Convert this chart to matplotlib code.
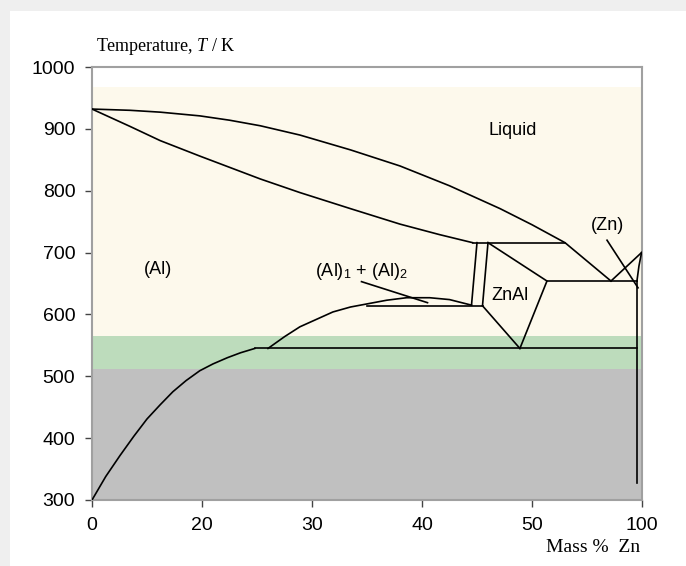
import numpy as np
import matplotlib
matplotlib.use("Agg")
import matplotlib.pyplot as plt
from matplotlib.patches import Rectangle

plt.rcParams['font.family'] = ['Liberation Sans', 'DejaVu Sans']
plt.rcParams['mathtext.fontset'] = 'custom'
plt.rcParams['mathtext.rm'] = 'Liberation Sans'
plt.rcParams['mathtext.it'] = 'Liberation Serif:italic'

# x axis of the diagram is not linear: equal spacing between these labels
x_ticks = [0, 20, 30, 40, 50, 100]
y_ticks = [300, 400, 500, 600, 700, 800, 900, 1000]

# background bands (K)
liquid_band = (565, 967)
green_band = (512, 565)
gray_band = (300, 512)

# phase boundaries, mass % Zn vs T / K
liq_x = [0, 6.9, 12.4, 19.6, 22.5, 25.3, 28.9, 33.5, 38.0, 42.5, 47.1, 50.0, 65.0, 85.9]
liq_T = [932, 930, 927, 921, 914, 905, 890, 866, 840, 808, 771, 745, 716, 654]

sol_x = [0, 6.9, 12.4, 19.6, 25.3, 28.9, 33.5, 38.0, 41.6, 44.6]
sol_T = [932, 904, 881, 856, 819, 797, 771, 746, 729, 716]

solvus_x = [0, 2.5, 5.1, 7.6, 10.0, 12.4, 14.7, 17.1, 19.6, 21.0, 22.3, 23.5, 24.8]
solvus_T = [300, 338, 372, 403, 431, 454, 475, 493, 509, 520, 530, 538, 545]

gap_x = [26.0, 27.5, 28.9, 31.9, 33.5, 35.0, 36.8, 38.6, 40.7, 42.5, 44.5]
gap_T = [545, 564, 580, 604, 612, 617, 623, 627, 627, 624, 615]

zn_liq_x = [85.9, 99.8]
zn_liq_T = [654, 700]
zn_sol_x = [99.8, 98.6, 97.7]
zn_sol_T = [700, 678, 654]
zn_solvus_x = [97.7, 97.7]
zn_solvus_T = [654, 328]

# two near-vertical lines on the Al side of ZnAl
dl1_x = [45.0, 44.5]
dl1_T = [716, 615]
dl2_x = [46.0, 45.5]
dl2_T = [716, 614]

# ZnAl field edges
znal_x = [46.0, 56.8, 48.9, 45.5]
znal_T = [716, 654, 545, 614]

# invariant horizontals: (x from, x to, T)
horizontals = [
    (44.6, 65.0, 716),
    (56.8, 97.7, 654),
    (35.0, 45.5, 614),
    (24.8, 97.7, 545),
]

# label pointers
ptr_al_x = [34.5, 40.5]
ptr_al_T = [653, 619]
ptr_zn_x = [84.1, 98.2]
ptr_zn_T = [720, 643]

labels = [
    ("Liquid", 48.2, 898),
    ("(Al)", 12.0, 672),
    ("(Al)$_1$ + (Al)$_2$", 34.5, 669),
    ("ZnAl", 48.0, 631),
    ("(Zn)", 84.5, 743),
]

pos = np.arange(len(x_ticks))


def fwd(v):
    return np.interp(v, x_ticks, pos)


def inv(v):
    return np.interp(v, pos, x_ticks)


fig = plt.figure(figsize=(6.86, 5.66), dpi=100)
fig.patch.set_facecolor('#efefef')
fig.patches.append(Rectangle((10 / 686, 0), 1, 1 - 11 / 566, transform=fig.transFigure,
                             facecolor='white', edgecolor='none', zorder=-10))

ax = fig.add_axes([92 / 686, 66 / 566, 550 / 686, 433 / 566])
ax.set_zorder(1)
ax.set_xscale('function', functions=(fwd, inv))
ax.set_xlim(0, 100)
ax.set_ylim(300, 1000)

ax.axhspan(*liquid_band, color='#fdf9ec', lw=0, zorder=0)
ax.axhspan(*green_band, color='#bddcbc', lw=0, zorder=0)
ax.axhspan(*gray_band, color='#c0c0c0', lw=0, zorder=0)

lk = dict(color='black', lw=1.2, zorder=3)
for xs, ts in [(liq_x, liq_T), (sol_x, sol_T), (solvus_x, solvus_T), (gap_x, gap_T),
               (zn_liq_x, zn_liq_T), (zn_sol_x, zn_sol_T), (zn_solvus_x, zn_solvus_T),
               (dl1_x, dl1_T), (dl2_x, dl2_T), (ptr_al_x, ptr_al_T), (ptr_zn_x, ptr_zn_T)]:
    ax.plot(xs, ts, **lk)
ax.plot(znal_x[:3], znal_T[:3], **lk)
ax.plot(znal_x[2:], znal_T[2:], **lk)
for x0, x1, t in horizontals:
    ax.plot([x0, x1], [t, t], **lk)

for txt, x, t in labels:
    ax.text(x, t, txt, ha='center', va='center', fontsize=13, zorder=4)

ax.set_xticks(x_ticks)
ax.set_xticklabels([str(v) for v in x_ticks])
ax.set_yticks(y_ticks)
ax.tick_params(labelsize=14, length=5, width=1, color='#444444', pad=7)
for s in ax.spines.values():
    s.set_color('#a0a0a0')
    s.set_linewidth(1.5)

fig.text(96 / 686, 515 / 566, "Temperature, $T$ / K", family='Liberation Serif',
         fontsize=13, va='baseline')
fig.text(640 / 686, 18 / 566, "Mass %  Zn", family='Liberation Serif', fontsize=14,
         ha='right', va='center')

fig.savefig('out.png', dpi=100)
